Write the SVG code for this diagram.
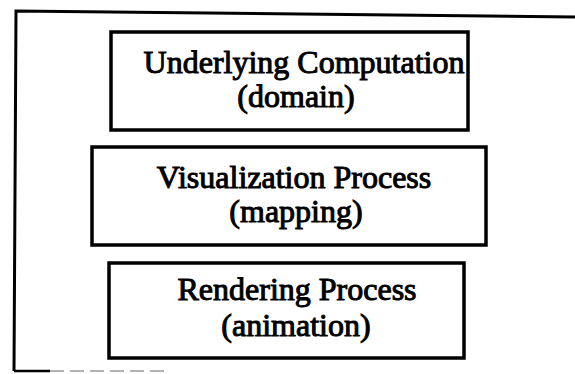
<svg xmlns="http://www.w3.org/2000/svg" width="575" height="374" viewBox="0 0 575 374">
  <style>
    .frame { fill: none; stroke: #000; stroke-width: 3; }
    .box { fill: #fff; stroke: #000; stroke-width: 3.5; }
    .label { font-family: "Liberation Serif", "Times New Roman", serif; font-size: 32px; fill: #000; stroke: #000; stroke-width: 1; text-anchor: middle; }
  </style>
  <rect width="575" height="374" fill="#fff"/>

  <!-- open outer frame: top and left edges, faint bottom edge -->
  <g id="frame">
    <path class="frame" d="M575,17 L16,11 L14,371"/>
    <path d="M14,371 L50,371" fill="none" stroke="#000" stroke-width="2.5"/>
    <path d="M50,371 L170,371" fill="none" stroke="#000" stroke-width="2" stroke-dasharray="14 6" opacity="0.3"/>
  </g>

  <g id="computation">
    <rect class="box" x="111" y="32" width="357" height="98"/>
    <text class="label" x="304" y="73">Underlying Computation</text>
    <text class="label" x="296" y="107">(domain)</text>
  </g>

  <g id="visualization">
    <rect class="box" x="92" y="147" width="394" height="98"/>
    <text class="label" x="294" y="188">Visualization Process</text>
    <text class="label" x="296" y="222">(mapping)</text>
  </g>

  <g id="rendering">
    <rect class="box" x="109" y="263" width="355" height="95"/>
    <text class="label" x="297" y="300">Rendering Process</text>
    <text class="label" x="296" y="336">(animation)</text>
  </g>

  <g id="connectors"/>
</svg>
